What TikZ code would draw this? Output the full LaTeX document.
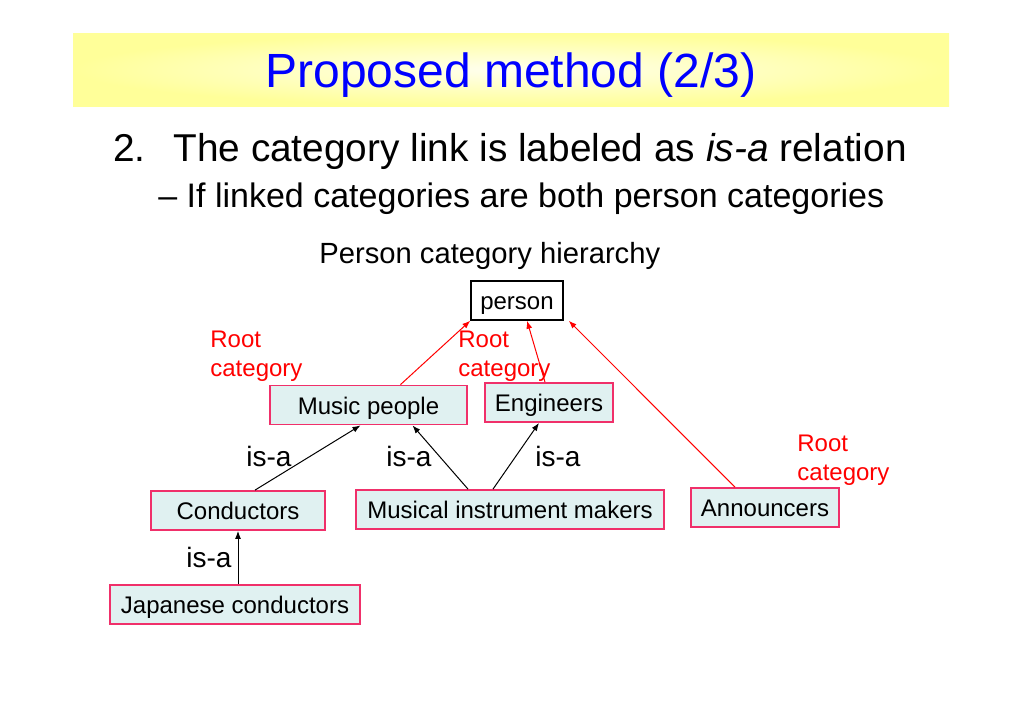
\documentclass[tikz,border=0pt]{standalone}
\usepackage{fontspec}
\setmainfont{Liberation Sans}
\usetikzlibrary{arrows.meta}
\definecolor{boxfill}{HTML}{E0F1F1}
\definecolor{boxline}{HTML}{F0306A}
\definecolor{band}{HTML}{FFFF99}
\begin{document}
\begin{tikzpicture}[x=0.5pt,y=-0.5pt,
  cat/.style={draw=boxline,line width=0.9pt,fill=boxfill,minimum height=19.5pt,inner sep=0pt,text height=9pt,text depth=0pt,font=\fontsize{12}{14.5}\selectfont},
  root/.style={red,align=left,anchor=north west,inner sep=0pt,font=\fontsize{12}{14.5}\selectfont},
  isa/.style={font=\fontsize{14}{16}\selectfont},
  line/.style={anchor=base west,inner sep=0pt},
  link/.style={-{Latex[length=4pt,width=3pt]},line width=0.5pt}]
\useasboundingbox (0,0) rectangle (1024,724);
% Title band and heading lines
\shade[inner color=band!15,outer color=band] (73,33) rectangle (949,106);
\node[blue,font=\fontsize{24}{28}\selectfont] (title) at (511,75) {Proposed method (2/3)};
\node[line,font=\fontsize{19.4}{23}\selectfont] (num) at (113,161) {2.};
\node[line,font=\fontsize{19.4}{23}\selectfont] (point) at (173,161) {The category link is labeled as \textit{is-a} relation};
\node[line,font=\fontsize{17}{20}\selectfont] (sub) at (158,207) {\textendash{} If linked categories are both person categories};
\node[line,font=\fontsize{14.6}{17}\selectfont] (hier) at (319,263) {Person category hierarchy};
% Category boxes
\node[draw,line width=0.7pt,fill=white,minimum width=46pt,minimum height=19.5pt,inner sep=0pt,text height=9pt,text depth=0pt,font=\fontsize{12}{14.5}\selectfont] (person) at (517,300.5) {person};
\node[cat,minimum width=98.5pt] (music) at (368.5,405) {Music people};
\node[cat,minimum width=64pt] (eng) at (549,402.5) {Engineers};
\node[cat,minimum width=87pt] (cond) at (238,510.5) {Conductors};
\node[cat,minimum width=154pt] (makers) at (510,509.5) {Musical instrument makers};
\node[cat,minimum width=74pt] (ann) at (765,507.5) {Announcers};
\node[cat,minimum width=125pt] (jap) at (235,604.5) {Japanese conductors};
% Root labels
\node[root] (rootA) at (210,331) {Root\\category};
\node[root] (rootB) at (458,331) {Root\\category};
\node[root] (rootC) at (797,435) {Root\\category};
% is-a labels
\node[isa] (isaA) at (269,456) {is-a};
\node[isa] (isaB) at (409,456) {is-a};
\node[isa] (isaC) at (558,456) {is-a};
\node[isa] (isaD) at (209,557) {is-a};
% Links to the root
\draw[link,red] ([xshift=16pt]music.north) -- (person.south west);
\draw[link,red] ([xshift=-2pt]eng.north) -- ([xshift=5pt]person.south);
\draw[link,red] ([xshift=-15pt]ann.north) -- ([xshift=2.5pt]person.south east);
% is-a links
\draw[link] ([xshift=8.5pt]cond.north) -- ([xshift=-4pt]music.south);
\draw[link] ([xshift=-21pt]makers.north) -- ([xshift=22pt]music.south);
\draw[link] ([xshift=-8.5pt]makers.north) -- ([xshift=-5pt]eng.south);
\draw[link] ([xshift=1.5pt]jap.north) -- (cond.south);
\end{tikzpicture}
\end{document}
